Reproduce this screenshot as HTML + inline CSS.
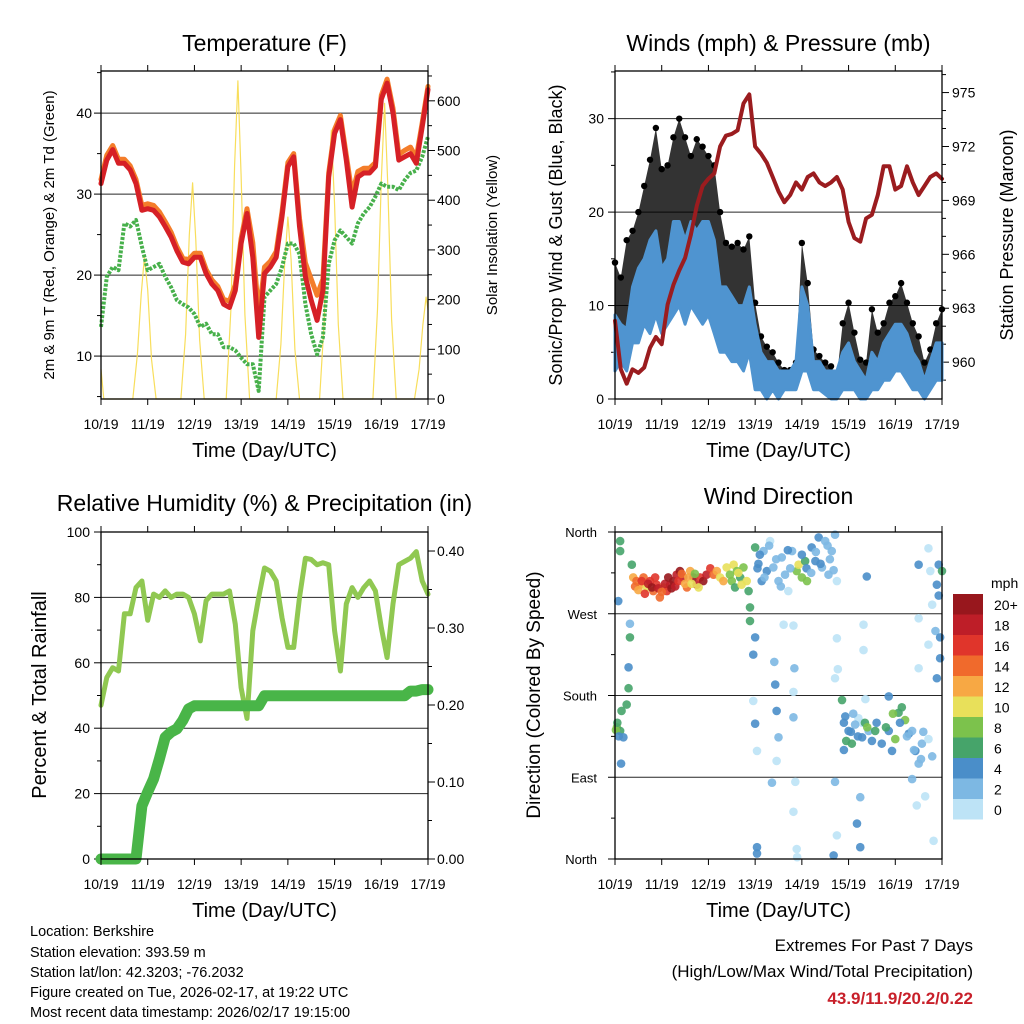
<!DOCTYPE html>
<html><head><meta charset="utf-8"><style>
body{margin:0;background:#fff}
svg{display:block;font-family:"Liberation Sans",Arial,sans-serif}
</style></head><body>
<svg id="page" width="1024" height="1024" viewBox="0 0 1024 1024" xmlns="http://www.w3.org/2000/svg">
<rect width="1024" height="1024" fill="#fff"/>
<g id="layer"></g>
<g font-size="14.5" fill="#000">
<text x="30" y="936">Location: Berkshire</text>
<text x="30" y="957">Station elevation: 393.59 m</text>
<text x="30" y="977">Station lat/lon: 42.3203; -76.2032</text>
<text x="30" y="997">Figure created on Tue, 2026-02-17, at 19:22 UTC</text>
<text x="30" y="1017">Most recent data timestamp: 2026/02/17 19:15:00</text>
</g>
<g text-anchor="end">
<text x="973" y="951" font-size="17">Extremes For Past 7 Days</text>
<text x="973" y="977" font-size="17">(High/Low/Max Wind/Total Precipitation)</text>
<text x="973" y="1004" font-size="17" font-weight="bold" fill="#c8202a">43.9/11.9/20.2/0.22</text>
</g>
</svg>
<script>
// ---- data (3-hourly, index i -> day i/8) ----
const dayLabels=["10/19","11/19","12/19","13/19","14/19","15/19","16/19","17/19"];
const tempRed=[31.3,34.2,35.5,33.8,33.8,33,31.3,28,28.2,28,27.2,26,24.7,23,21.6,21.4,22.2,22.2,20.2,18.9,18.1,16.4,16,18.1,23.9,27.6,22.2,12.3,20.2,21,22.2,27.2,33.4,34.6,26,19.8,16.9,14.4,18.1,32.1,37.5,39.2,34.2,28.4,32.1,32.6,32.6,33.4,41.7,43.7,40,34.2,34.6,35,33.8,38.3,42.9];
const tempOrange=[31.8,34.8,36,34.3,34.3,33.5,31.8,28.6,28.8,28.6,27.8,26.6,25.3,23.5,22.1,21.9,22.7,22.7,20.7,19.4,18.6,17,16.8,18.8,24.5,28.2,24,15,21,21.7,22.9,27.8,33.9,35,27,21.5,19.5,17.5,19.5,32.6,38,39.7,34.8,30,32.8,33.2,33.2,33.9,42.2,44.2,40.6,34.9,35.4,35.8,34.5,38.8,43.3];
const dewGreen=[13.6,19.8,21,20.6,26.4,26,26.8,23.5,20.6,21,21.4,19.8,18.5,16.9,16.4,16,15.2,13.6,14,12.7,12.7,11.1,11.1,10.7,9.8,9,9,5.7,17.3,18.1,18.9,21,23.9,23.9,22.6,16.4,12.7,10.2,12.3,21.4,24.3,25.5,24.7,23.9,26.4,27.6,28.4,29.7,31.3,30.9,30.9,30.5,31.7,32.6,32.9,34.6,37.1];
const solarDays=[0,0.06,0.68,0.78,0.86,0.93,1.0,1.08,1.18,1.71,1.81,1.89,1.96,2.03,2.11,2.21,2.68,2.78,2.86,2.93,3.0,3.08,3.18,3.75,3.85,3.93,4.0,4.07,4.15,4.25,4.68,4.78,4.86,4.93,5.0,5.08,5.18,5.82,5.92,6.0,6.07,6.14,6.22,6.32,6.71,6.81,6.89,6.96,7.0];
const solarVals=[60,0,0,90,210,286,220,80,0,0,130,330,435,320,120,0,0,180,470,640,450,170,0,0,110,270,366,280,100,0,0,160,400,541,390,150,0,0,180,440,595,430,160,0,0,60,150,205,180];
const pressure=[962.3,959.6,958.8,959.6,959.4,959.7,960.8,961.4,961.0,963.2,964.3,965.1,965.8,967.1,968.7,969.8,970.2,970.5,972.0,972.6,972.7,972.9,974.4,974.9,972.0,971.6,971.1,970.3,969.5,968.9,969.3,970,969.6,970.3,970.5,970.0,969.8,970,970.3,969.6,967.8,966.9,966.7,968,968.2,969.3,970.9,970.9,969.6,969.8,970.9,970.0,969.3,969.8,970.3,970.5,970.2];
const windLow=[3,4,3,6,6,8,7,9,7,8,9,10,8,10,9,8,9,7,5,5,4,4,3,5,1,1,0,1,0,1,1,1,3,3,1,1,0.5,0,0,1,1,1,0,0,1,1,2,2,3,3,2,1,1,0,1,2,2];
const windHigh=[9,8,7.5,12,14,15,17,18,14,15,19,19,17,19,18,19,19,17,12,12,11,10,10,12,8,5,4,4,3,3,3,4,12,10,4,4,3,3,3,5,6,4,3,2,5,4,6,7,8,8,7,5,4,2,4,6,6];
const windGust=[14.6,13,17,18,20,22.8,25.6,29,24.6,25,28,30,28,26,27.8,27,26,25,20,16.7,16.3,16.7,16,17.4,10.3,6.7,5.6,5,3.9,3.1,3.1,3.9,16.7,12.4,5.3,4.6,3.9,3.5,2.4,8.1,10.3,7.1,4.2,3.9,9.6,7.1,8.1,10.3,11,12.4,10.3,8.1,6.7,3.9,5.3,8.1,9.6];
const rh=[47,55.5,58.5,57.5,75,75,83,85,73,81,80,82,80,81,81,80,75,66.7,79,81,81,81,82,71.8,52.4,43,69.8,80,89,88,85,73.8,64.7,64.7,80,92,91.6,90,90.6,90,69.8,57.5,78,83,80,83,85,82,70.8,61.6,78,90,91,92,94,85,81];
const precip=[0,0,0,0,0,0,0,0.069,0.087,0.104,0.13,0.158,0.165,0.169,0.18,0.195,0.199,0.199,0.199,0.199,0.199,0.199,0.199,0.199,0.199,0.199,0.199,0.199,0.212,0.212,0.212,0.212,0.212,0.212,0.212,0.212,0.212,0.212,0.212,0.212,0.212,0.212,0.212,0.212,0.212,0.212,0.212,0.212,0.212,0.212,0.212,0.212,0.212,0.218,0.218,0.22,0.22];
// wind direction scatter: day, degrees, speed
const dirDays=[0.36,0.39,0.46,0.54,0.61,0.68,0.75,0.82,0.89,0.96,1.04,1.11,1.18,1.25,1.32,1.39,1.46,1.54,1.61,1.68,1.75,1.82,1.89,1.96,2.04,2.11,2.18,2.25,2.32,2.39,2.46,2.54,2.61,2.68,2.75,2.82,2.86,2.89,2.89,
3.0,3.07,3.14,3.18,3.25,3.32,3.39,3.5,3.57,3.64,3.71,3.79,3.89,3.93,4.0,4.07,4.11,4.21,4.29,4.36,4.43,4.5,4.57,4.64,4.71,4.75,
0.11,0.11,0.07,0.04,0.11,0.18,0.14,0.25,0.29,0.29,0.32,0.32,0.13,
3.0,2.96,2.96,3.0,3.04,3.04,3.04,3.41,3.43,3.46,3.5,3.46,3.36,3.61,3.82,3.84,3.82,3.82,3.86,3.82,3.89,3.9,4.75,4.77,4.71,4.71,4.75,4.68,5.39,5.32,5.32,5.36,5.29,5.25,5.18,5.25,5.21,
4.86,4.93,5.0,5.07,5.14,5.29,5.43,5.57,5.71,5.86,5.93,6.0,6.07,6.14,6.21,6.29,6.36,6.43,6.5,6.57,6.71,6.79,5.86,6.36,6.46,6.64,
6.5,6.71,6.75,6.79,6.86,6.89,6.93,6.96,7.0,6.93,6.96,6.89,6.71,6.5,6.5,6.82,
0.43,0.5,0.57,0.64,0.71,0.79,0.86,0.93,1.0,1.07,1.14,1.21,1.29,1.36,1.43,1.5,1.57,1.64,1.71,1.79,2.5,2.57,2.64,2.71,
3.05,3.1,3.2,3.3,3.45,3.55,3.7,3.75,4.0,4.1,4.2,4.3,4.4,4.55,4.6,4.68,
4.9,4.95,5.05,5.1,5.2,5.35,5.5,5.6,5.8,5.95,6.1,6.25,6.4,6.55,6.6,4.9,5.4,0.02,0.05,0.08];
const dirDegs=[324,310,306,302,310,299,306,295,302,288,299,295,302,306,313,317,310,299,317,310,302,310,306,313,320,313,317,310,306,321,313,324,317,310,321,306,295,277,262,
343,325,306,339,317,350,321,306,332,313,295,339,317,324,310,328,306,343,328,354,321,350,313,339,357,306,
350,339,284,145,141,134,163,170,188,211,244,259,105,
244,225,174,149,119,13,6,217,192,163,134,108,84,258,257,210,184,156,85,52,11,2,243,209,199,85,26,4,311,258,230,176,150,68,39,13,155,
175,157,141,127,148,134,141,141,127,141,119,132,161,167,153,138,141,119,105,127,132,113,179,88,59,69,
324,342,317,280,251,302,324,244,317,290,221,199,236,265,210,20,
300,296,306,292,303,299,310,298,294,303,310,298,300,306,314,303,310,303,314,299,306,299,315,302,
320,335,310,345,330,300,340,320,335,320,315,338,325,345,330,318,
150,130,140,160,135,150,130,150,145,160,150,135,120,110,140,120,145,142,150,135];
const dirSpeeds=[6,12,14,12,14,10,16,14,16,14,12,16,18,20,18,20,18,14,12,20,18,16,20,18,16,14,12,10,12,10,8,10,8,6,8,10,6,6,6,
6,4,4,2,4,0,2,2,2,2,0,2,8,10,8,6,8,4,4,4,2,2,2,2,2,0,
6,6,4,8,6,4,6,6,6,4,6,2,4,
4,4,0,4,0,4,4,2,4,4,2,0,2,0,0,2,0,2,0,0,0,0,0,0,0,2,0,4,4,0,0,0,0,2,4,4,0,
6,4,4,6,2,4,2,6,4,4,4,8,6,6,8,4,2,4,2,2,0,2,4,2,0,0,
4,0,0,0,2,4,4,4,6,4,4,4,0,0,0,0,
14,12,16,16,18,20,16,18,14,18,20,20,18,16,14,12,12,10,8,10,8,6,10,10,
4,4,2,2,2,2,4,2,4,4,2,2,4,2,2,2,
4,6,4,2,4,6,4,4,6,8,4,2,2,2,2,4,8,8,6,4];
const speedColors=["#bde3f6","#7db8e3","#4a8ec9","#46a46a","#7cc24c","#e8e05a","#f7a844","#f06a2c","#e0352b","#be1e28","#98171d"];
const speedLabels=["0","2","4","6","8","10","12","14","16","18","20+"];
const dirLabels=["North","East","South","West","North"];

const NS="http://www.w3.org/2000/svg";
const layer=document.getElementById('layer');
function mk(tag,attrs,parent){const e=document.createElementNS(NS,tag);for(const k in attrs)e.setAttribute(k,attrs[k]);(parent||layer).appendChild(e);return e;}
function txt(s,attrs,parent){const e=mk('text',attrs,parent);e.textContent=s;return e;}
const T=i=>i/8;

function panel(name,x0,x1,y0,y1){
  const g=mk('g',{});
  
  
  const xs=d=>x0+d/7*(x1-x0);
  return {g,xs,x0,x1,y0,y1,lin:(v0,v1)=>v=>y1-(v-v0)/(v1-v0)*(y1-y0)};
}
function frame(P,title,titleSize,titleY){
  const {g,xs,x0,x1,y0,y1}=P;
  const ax=mk('g',{},g);
  
  
  for(let d=0;d<=7;d++){
    mk('line',{x1:xs(d),x2:xs(d),y1:y1,y2:y1+6,stroke:'#000','stroke-width':1},ax);
    mk('line',{x1:xs(d),x2:xs(d),y1:y0,y2:y0-6,stroke:'#000','stroke-width':1},ax);
    const t=txt(dayLabels[d],{x:xs(d),y:y1+30,'font-size':14,'text-anchor':'middle'},ax);
    
    
  }
  const xt=txt('Time (Day/UTC)',{x:(x0+x1)/2,y:y1+58,'font-size':20,'text-anchor':'middle'},g);
  
  
  const tt=txt(title,{x:(x0+x1)/2,y:titleY,'font-size':titleSize,'text-anchor':'middle'},g);
  
  
}
function border(P){
  const b=mk('rect',{x:P.x0,y:P.y0,width:P.x1-P.x0,height:P.y1-P.y0,fill:'none',stroke:'#000','stroke-width':1.3},P.g);
  
  
}
function yAxis(P,side,vals,labels,ys,minors,grid,lx,anchor,fs){
  const g=mk('g',{},P.g);
  
  
  const xe=side==='left'?P.x0:P.x1, dir=side==='left'?-1:1;
  vals.forEach((v,i)=>{
    const y=ys(v);
    if(grid) mk('line',{x1:P.x0,x2:P.x1,y1:y,y2:y,stroke:'#000','stroke-width':1,'stroke-opacity':0.85},g);
    mk('line',{x1:xe,x2:xe+dir*7,y1:y,y2:y,stroke:'#000'},g);
    const t=txt(labels[i],{x:lx,y:y+5,'font-size':fs,'text-anchor':anchor},g);
    
    
  });
  minors.forEach(v=>{const y=ys(v);mk('line',{x1:xe,x2:xe+dir*4,y1:y,y2:y,stroke:'#000'},g);});
}
function vtitle(P,s,x,y,fs,name){
  const t=txt(s,{x:x,y:y,'font-size':fs,'text-anchor':'middle',transform:`rotate(-90 ${x} ${y})`},P.g);
  
  
}
function poly(P,xsArr,vals,ys,attrs,name){
  const pts=vals.map((v,i)=>P.xs(xsArr[i]).toFixed(1)+','+ys(v).toFixed(1)).join(' ');
  const e=mk('polyline',Object.assign({points:pts,fill:'none','stroke-linejoin':'round','stroke-linecap':'round'},attrs),P.g);
  
  
  return e;
}
const idxDays=tempRed.map((_,i)=>T(i));

// ---------- Panel 1: Temperature ----------
{
const P=panel('temperature-panel',101,428,71,399);
const yl=P.lin(4.7,45.2), yr=P.lin(0,660);
yAxis(P,'left',[10,20,30,40],['10','20','30','40'],yl,[5,15,25,35,45],true,92,'end',14);
yAxis(P,'right',[0,100,200,300,400,500,600],['0','100','200','300','400','500','600'],yr,[50,150,250,350,450,550,650],false,437,'start',14);
poly(P,solarDays,solarVals,yr,{stroke:'#f8de5c','stroke-width':1.2},'solar-insolation-line');
poly(P,idxDays,dewGreen,yl,{stroke:'#47b04b','stroke-width':4,'stroke-dasharray':'3 1.5','stroke-linecap':'butt'},'dewpoint-line');
poly(P,idxDays,tempOrange,yl,{stroke:'#f47d2a','stroke-width':5},'temp-9m-line');
poly(P,idxDays,tempRed,yl,{stroke:'#d62026','stroke-width':5},'temp-2m-line');
border(P);
frame(P,'Temperature (F)',23,51);
vtitle(P,'2m & 9m T (Red, Orange) & 2m Td (Green)',54,235,15,'left-y-axis-title');
vtitle(P,'Solar Insolation (Yellow)',497,235,15,'right-y-axis-title');
}
// ---------- Panel 2: Winds & Pressure ----------
{
const P=panel('winds-pressure-panel',615,942,71,399);
const yl=P.lin(0,35.1), yr=P.lin(957.95,976.2);
yAxis(P,'left',[0,10,20,30],['0','10','20','30'],yl,[5,15,25,35],true,604,'end',14);
yAxis(P,'right',[960,963,966,969,972,975],['960','963','966','969','972','975'],yr,[959,961,962,964,965,967,968,970,971,973,974,976],false,952,'start',14);
const top=windGust.map((v,i)=>P.xs(T(i)).toFixed(1)+','+yl(v).toFixed(1));
const bot=windHigh.map((v,i)=>P.xs(T(i)).toFixed(1)+','+yl(v).toFixed(1)).reverse();
const gb=mk('polygon',{points:top.concat(bot).join(' '),fill:'#000','fill-opacity':0.8},P.g);


windGust.forEach((v,i)=>{const c=mk('circle',{cx:P.xs(T(i)),cy:yl(v),r:3.2,fill:'#000'},P.g);

});
const wt=windHigh.map((v,i)=>P.xs(T(i)).toFixed(1)+','+yl(v).toFixed(1));
const wb=windLow.map((v,i)=>P.xs(T(i)).toFixed(1)+','+yl(v).toFixed(1)).reverse();
const ws=mk('polygon',{points:wt.concat(wb).join(' '),fill:'#4f94d0',stroke:'#4f94d0','stroke-width':3,'stroke-linejoin':'round'},P.g);


poly(P,idxDays,pressure,yr,{stroke:'#9b1c1f','stroke-width':4},'pressure-line');
border(P);
frame(P,'Winds (mph) & Pressure (mb)',23,51);
vtitle(P,'Sonic/Prop Wind & Gust (Blue, Black)',562,235,18,'left-y-axis-title');
vtitle(P,'Station Pressure (Maroon)',1013,235,18,'right-y-axis-title');
}
// ---------- Panel 3: RH & Precip ----------
{
const P=panel('humidity-precip-panel',101,428,532,859);
const yl=P.lin(0,100), yr=P.lin(0,0.4247);
yAxis(P,'left',[0,20,40,60,80,100],['0','20','40','60','80','100'],yl,[10,30,50,70,90],true,90,'end',14);
yAxis(P,'right',[0,0.1,0.2,0.3,0.4],['0.00','0.10','0.20','0.30','0.40'],yr,[0.05,0.15,0.25,0.35],false,437,'start',14);
poly(P,idxDays,rh,yl,{stroke:'#90c852','stroke-width':5},'humidity-line');
poly(P,idxDays,precip,yr,{stroke:'#49b548','stroke-width':11},'precip-line');
border(P);
frame(P,'Relative Humidity (%) & Precipitation (in)',23,511);
vtitle(P,'Percent & Total Rainfall',46,695,20,'left-y-axis-title');
}
// ---------- Panel 4: Wind Direction ----------
{
const P=panel('wind-direction-panel',615,942,532,859);
const yl=P.lin(0,360);
yAxis(P,'left',[0,90,180,270,360],dirLabels,yl,[45,135,225,315],true,597,'end',13);
dirDays.forEach((d,i)=>{
  const s=dirSpeeds[i];const ci=Math.min(10,Math.round(s/2));
  const c=mk('circle',{cx:P.xs(d),cy:yl(dirDegs[i]),r:4.3,fill:speedColors[ci],'fill-opacity':0.9},P.g);
  
  
});
border(P);
frame(P,'Wind Direction',23,504);
vtitle(P,'Direction (Colored By Speed)',540,695,19,'left-y-axis-title');
const lg=mk('g',{},P.g);


txt('mph',{x:991,y:588,'font-size':14},lg);
for(let k=0;k<11;k++){
  const ci=10-k;const y=594+k*20.5;
  const r=mk('rect',{x:953,y:y,width:30,height:20.5,fill:speedColors[ci]},lg);
  
  
  txt(speedLabels[ci],{x:994,y:y+16,'font-size':14},lg);
}
}
</script>
</body></html>
